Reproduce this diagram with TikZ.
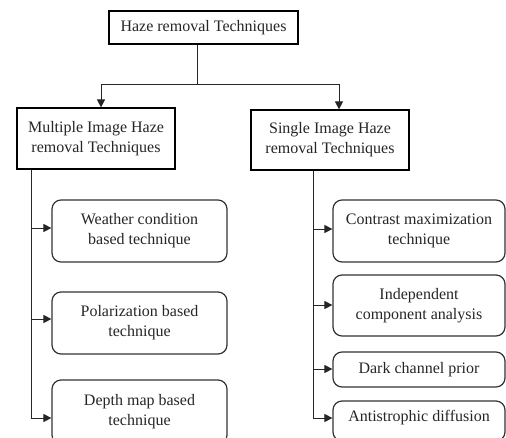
\documentclass[tikz,border=0pt]{standalone}
\usepackage{fontspec}
\setmainfont{Liberation Serif}
\usetikzlibrary{arrows.meta}
\begin{document}
\begin{tikzpicture}[x=1pt,y=-1pt,
  sqbox/.style={draw=black,line width=1.2pt,rectangle,align=center,inner sep=0pt,
    font=\fontsize{16}{20}\selectfont,text=black!85},
  rbox/.style={draw=black!80,line width=1.2pt,rectangle,rounded corners=9pt,align=center,inner sep=0pt,
    font=\fontsize{16}{20}\selectfont,text=black!85},
  conn/.style={draw=black!85,line width=1pt},
  arr/.style={conn,-{Triangle[length=8pt,width=8pt]}}]
\clip (0,0) rectangle (506,437);
\useasboundingbox (0,0) rectangle (506,437);
\fill[white] (0,0) rectangle (506,437);
% main nodes
\node[sqbox,minimum width=189pt,minimum height=33pt] (top) at (203.5,27.5) {Haze removal Techniques};
\node[sqbox,minimum width=158pt,minimum height=61pt] (multi) at (96,138.5) {Multiple Image Haze\\removal Techniques};
\node[sqbox,minimum width=158pt,minimum height=60pt] (single) at (330,140) {Single Image Haze\\removal Techniques};
% left children
\node[rbox,minimum width=175pt,minimum height=62pt] (l1) at (139.5,231) {Weather condition\\based technique};
\node[rbox,minimum width=175pt,minimum height=62pt] (l2) at (139.5,323) {Polarization based\\technique};
\node[rbox,minimum width=175pt,minimum height=64pt] (l3) at (139.5,412) {Depth map based\\technique};
% right children
\node[rbox,minimum width=172pt,minimum height=62pt] (r1) at (419,231) {Contrast maximization\\technique};
\node[rbox,minimum width=172pt,minimum height=61pt] (r2) at (419,305.5) {Independent\\component analysis};
\node[rbox,minimum width=172pt,minimum height=35pt] (r3) at (419,369.5) {Dark channel prior};
\node[rbox,minimum width=172pt,minimum height=40pt] (r4) at (419,421) {};
\node[font=\fontsize{16}{20}\selectfont,text=black!85,inner sep=0pt] (r4t) at (419,418) {Antistrophic diffusion};
% connectors
\coordinate (j) at (197,84);
\coordinate (la) at (101,84);
\coordinate (ra) at (339,84);
\draw[conn] (top.south -| j) -- (j);
\draw[arr] (j) -- (la) -- (la |- multi.north);
\draw[arr] (j) -- (ra) -- (ra |- single.north);
\coordinate (lv) at (31,228);
\coordinate (lv2) at (31,319);
\coordinate (lv3) at (31,418);
\draw[conn] (multi.south -| lv) -- (lv3);
\draw[arr] (lv) -- (lv -| l1.west);
\draw[arr] (lv2) -- (lv2 -| l2.west);
\draw[arr] (lv3) -- (lv3 -| l3.west);
\coordinate (rv) at (313,229);
\coordinate (rv2) at (313,305);
\coordinate (rv3) at (313,369);
\coordinate (rv4) at (313,418);
\draw[conn] (single.south -| rv) -- (rv4);
\draw[arr] (rv) -- (rv -| r1.west);
\draw[arr] (rv2) -- (rv2 -| r2.west);
\draw[arr] (rv3) -- (rv3 -| r3.west);
\draw[arr] (rv4) -- (rv4 -| r4.west);
\end{tikzpicture}
\end{document}
